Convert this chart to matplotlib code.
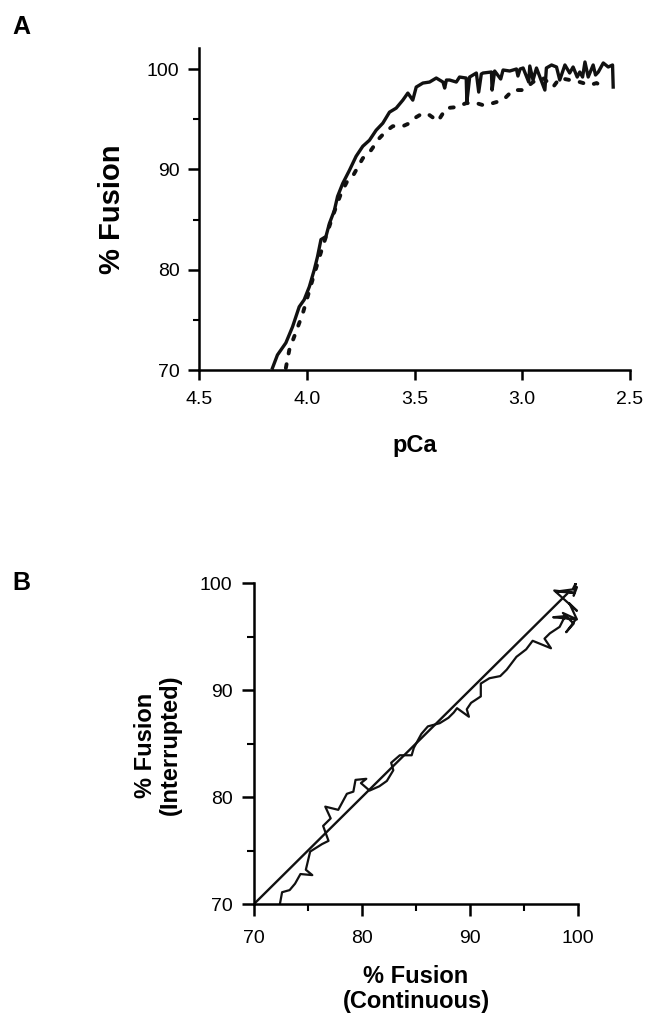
import numpy as np
import matplotlib
matplotlib.use("Agg")
import matplotlib.pyplot as plt
from matplotlib.ticker import MultipleLocator

plt.rcParams.update({"font.family": "Liberation Sans", "font.size": 14})

# |>- Panel A: % fusion vs pCa -<|
pca_continuous = [4.159, 4.136, 4.097, 4.066, 4.035, 4.012, 3.988, 3.965, 3.950, 3.934,
                  3.911, 3.895, 3.872, 3.857, 3.833, 3.802, 3.771, 3.740, 3.709, 3.678,
                  3.647, 3.616, 3.585, 3.554, 3.531, 3.508, 3.492, 3.461, 3.430, 3.399,
                  3.368, 3.360, 3.352, 3.337, 3.306, 3.291, 3.260, 3.257, 3.244, 3.213,
                  3.202, 3.190, 3.182, 3.143, 3.140, 3.128, 3.100, 3.089, 3.058, 3.027,
                  3.020, 3.010, 2.996, 2.970, 2.965, 2.950, 2.934, 2.895, 2.888, 2.864,
                  2.841, 2.826, 2.802, 2.780, 2.764, 2.745, 2.733, 2.720, 2.709, 2.694,
                  2.671, 2.660, 2.647, 2.624, 2.601, 2.581, 2.578]
fusion_continuous = [70.2, 71.5, 72.7, 74.3, 76.3, 77.0, 78.3, 80.0, 81.3, 83.0,
                     83.3, 84.6, 85.9, 87.3, 88.6, 89.9, 91.3, 92.3, 92.9, 93.9,
                     94.6, 95.7, 96.1, 96.9, 97.6, 96.9, 98.2, 98.6, 98.7, 99.1,
                     98.7, 98.1, 98.9, 98.9, 98.7, 99.2, 99.1, 96.7, 99.2, 99.6,
                     97.7, 99.5, 99.6, 99.7, 97.9, 99.8, 99.0, 99.9, 99.8, 100.0,
                     99.3, 100.0, 100.1, 98.7, 100.3, 98.9, 100.1, 97.9, 100.1, 100.4,
                     100.2, 98.9, 100.4, 99.6, 100.2, 99.2, 99.7, 99.2, 100.7, 99.2,
                     100.4, 99.4, 99.7, 100.6, 100.2, 100.4, 98.2]

pca_interrupted = [4.097, 4.081, 4.050, 4.019, 3.973, 3.926, 3.880, 3.841, 3.810, 3.787,
                   3.740, 3.702, 3.663, 3.632, 3.601, 3.554, 3.523, 3.492, 3.461, 3.430,
                   3.391, 3.353, 3.306, 3.260, 3.213, 3.182, 3.136, 3.089, 3.043, 2.996,
                   2.950, 2.903, 2.857, 2.826, 2.779, 2.733, 2.686, 2.655, 2.624]
fusion_interrupted = [70.2, 72.0, 73.8, 75.6, 79.0, 82.3, 85.3, 87.6, 88.9, 89.3,
                      91.1, 91.9, 93.1, 93.8, 94.3, 94.3, 94.6, 95.2, 95.6, 95.4,
                      94.8, 96.1, 96.2, 96.6, 96.6, 96.4, 96.6, 96.9, 97.9, 97.9,
                      98.7, 99.1, 98.2, 99.1, 98.9, 98.7, 98.4, 98.6, 98.2]

pca_ticks = [4.5, 4.0, 3.5, 3.0, 2.5]
fusion_ticks = [70, 80, 90, 100]

# |>- Panel B: interrupted vs continuous -<|
b_continuous = [72.4, 72.6, 73.3, 73.8, 74.3, 75.4, 74.8, 75.2, 76.3, 76.9,
                76.4, 77.1, 76.6, 77.8, 78.6, 79.2, 79.4, 80.4, 79.9, 80.7,
                81.6, 82.3, 82.9, 82.7, 83.5, 84.6, 84.8, 85.5, 86.1, 87.2,
                88.0, 88.5, 88.8, 89.9, 89.7, 90.1, 91.0, 91.0, 91.8, 92.8,
                93.4, 94.3, 95.2, 95.8, 97.5, 96.9, 97.4, 98.3, 98.8, 97.7,
                99.8, 98.9, 99.6, 98.6, 99.9, 99.2, 99.9, 97.8, 99.5, 98.0,
                99.5, 99.8, 99.6, 99.9]
b_interrupted = [70.0, 71.1, 71.3, 71.9, 72.8, 72.7, 73.2, 74.9, 75.6, 75.9,
                 77.3, 78.0, 79.1, 78.8, 80.3, 80.5, 81.6, 81.7, 81.3, 80.6,
                 81.0, 81.5, 82.5, 83.2, 83.9, 83.9, 84.6, 85.9, 86.6, 86.9,
                 87.4, 87.9, 88.3, 87.5, 88.2, 88.8, 89.4, 90.6, 91.1, 91.3,
                 91.9, 93.1, 93.8, 94.6, 93.9, 94.8, 95.3, 95.9, 96.9, 96.8,
                 96.6, 95.4, 96.2, 97.2, 96.6, 98.1, 97.4, 99.3, 99.1, 99.2,
                 99.4, 100.0, 98.8, 99.6]
identity = [70, 99]
b_ticks = [70, 80, 90, 100]

# |>- Figure -<|
W, H = 646, 1013
fig = plt.figure(figsize=(W / 100, H / 100), dpi=100)


def px_axes(x0, x1, y0, y1):
    return fig.add_axes([x0 / W, 1 - y1 / H, (x1 - x0) / W, (y1 - y0) / H])


def style(ax, major_len, minor_len):
    for side in ["top", "right"]:
        ax.spines[side].set_visible(False)
    for side in ["left", "bottom"]:
        ax.spines[side].set_linewidth(1.8)
    ax.tick_params(which="major", direction="out", length=major_len, width=1.8)
    ax.tick_params(which="minor", direction="out", length=minor_len, width=1.5)


# Panel A
axA = px_axes(199, 630, 48, 370)
axA.plot(pca_continuous, fusion_continuous, color="#111111", lw=2.4)
axA.plot(pca_interrupted, fusion_interrupted, color="#111111", lw=2.8,
         linestyle=(0, (1.0, 2.8)), dash_capstyle="round")
axA.set_xlim(4.5, 2.5)
axA.set_ylim(70, 70 + 30 * 322 / 301)
axA.set_xticks(pca_ticks)
axA.set_xticklabels([f"{t:.1f}" for t in pca_ticks])
axA.set_yticks(fusion_ticks)
axA.yaxis.set_minor_locator(MultipleLocator(5))
style(axA, 8, 4)
axA.tick_params(axis="x", which="major", length=7, pad=8)
axA.tick_params(axis="y", pad=6)

fig.text(112 / W, 1 - 209 / H, "% Fusion", rotation=90, ha="center", va="center",
         fontsize=21, fontweight="bold")
fig.text(415 / W, 1 - 445 / H, "pCa", ha="center", va="center",
         fontsize=17, fontweight="bold")
fig.text(12 / W, 1 - 27 / H, "A", ha="left", va="center", fontsize=18, fontweight="bold")

# Panel B
axB = px_axes(254, 578, 583, 904)
axB.plot(identity, identity, color="#111111", lw=1.7)
axB.plot(b_continuous, b_interrupted, color="#111111", lw=1.6)
axB.set_xlim(70, 100)
axB.set_ylim(70, 100)
axB.set_xticks(b_ticks)
axB.set_yticks(b_ticks)
axB.xaxis.set_minor_locator(MultipleLocator(5))
axB.yaxis.set_minor_locator(MultipleLocator(5))
style(axB, 8.5, 5)
axB.tick_params(axis="x", pad=10)
axB.tick_params(axis="y", pad=7)

fig.text(158 / W, 1 - 745 / H, "% Fusion\n(Interrupted)", rotation=90, ha="center",
         va="center", fontsize=17, fontweight="bold", linespacing=1.1)
fig.text(416 / W, 1 - 989 / H, "% Fusion\n(Continuous)", ha="center", va="center",
         fontsize=17, fontweight="bold", linespacing=1.1)
fig.text(12 / W, 1 - 583 / H, "B", ha="left", va="center", fontsize=18, fontweight="bold")

fig.savefig("out.png", dpi=100)
